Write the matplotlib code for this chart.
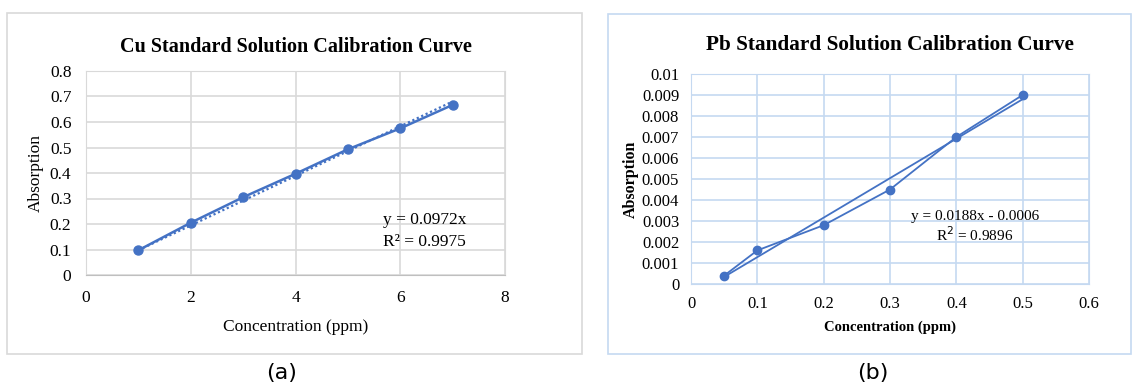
import numpy as np
import matplotlib.pyplot as plt
from matplotlib.patches import Rectangle

# Cu calibration data
cu_conc = [1, 2, 3, 4, 5, 6, 7]
cu_abs = [0.097, 0.205, 0.305, 0.397, 0.493, 0.575, 0.667]
cu_slope = 0.0972

# Pb calibration data
pb_conc = [0.05, 0.1, 0.2, 0.3, 0.4, 0.5]
pb_abs = [0.0004, 0.0016, 0.0028, 0.0045, 0.0070, 0.0090]
pb_slope = 0.0188
pb_icpt = -0.0006

BLUE = '#4472C4'
W, H = 1132, 388

plt.rcParams['font.family'] = 'Liberation Serif'

fig = plt.figure(figsize=(W / 100, H / 100), dpi=100)


def px_axes(x0, y0, x1, y1):
    # pixel box (top-left origin) -> figure axes
    return fig.add_axes([x0 / W, 1 - y1 / H, (x1 - x0) / W, (y1 - y0) / H])


def frame(x0, y0, x1, y1, color):
    fig.patches.append(Rectangle((x0 / W, 1 - y1 / H), (x1 - x0) / W, (y1 - y0) / H,
                                 transform=fig.transFigure, fill=False,
                                 edgecolor=color, lw=1.2))


# ---- (a) Cu ----
frame(7, 13, 582, 354, '#d9d9d9')
ax1 = px_axes(86, 71, 505, 275)
ax1.plot(cu_conc, cu_abs, color=BLUE, lw=1.8, marker='o', ms=6.5, zorder=3)
xx = np.array([cu_conc[0], cu_conc[-1]])
ax1.plot(xx, cu_slope * xx, color=BLUE, lw=1.6, ls=(0, (1, 1.2)), zorder=2)
ax1.set_xlim(0, 8)
ax1.set_ylim(0, 0.8)
ax1.set_xticks(np.arange(0, 9, 2))
ax1.set_yticks(np.arange(0, 0.81, 0.1))
ax1.set_yticklabels(['0'] + [f'{v:.1f}' for v in np.arange(0.1, 0.81, 0.1)])
ax1.grid(True, color='#d9d9d9', lw=1.2)
ax1.set_axisbelow(True)
for s in ax1.spines.values():
    s.set_color('#d9d9d9')
ax1.spines['bottom'].set_color('#bfbfbf')
ax1.tick_params(length=0, labelsize=12.5)
ax1.tick_params(axis='x', pad=11)
ax1.tick_params(axis='y', pad=10.5)
ax1.set_xlabel('Concentration (ppm)', fontsize=12.5, labelpad=9)
ax1.set_ylabel('Absorption', fontsize=12.5, labelpad=4)
ax1.set_title('Cu Standard Solution Calibration Curve', fontsize=14.5,
              fontweight='bold', pad=14)
ax1.text(7.26, 0.172, 'y = 0.0972x\nR² = 0.9975', ha='right', va='center',
         fontsize=12.5, linespacing=1.45)

# ---- (b) Pb ----
frame(608, 14, 1131, 354, '#c5d9f1')
ax2 = px_axes(691, 74, 1089, 284)
ax2.plot(pb_conc, pb_abs, color=BLUE, lw=1.3, marker='o', ms=6, zorder=3)
xx = np.array([pb_conc[0], pb_conc[-1]])
ax2.plot(xx, pb_slope * xx + pb_icpt, color=BLUE, lw=1.3, zorder=2)
ax2.set_xlim(0, 0.6)
ax2.set_ylim(0, 0.01)
ax2.set_xticks(np.arange(0, 0.61, 0.1))
ax2.set_xticklabels(['0'] + [f'{v:.1f}' for v in np.arange(0.1, 0.61, 0.1)])
ax2.set_yticks(np.arange(0, 0.0101, 0.001))
ax2.set_yticklabels(['0'] + [f'{v:.3f}' for v in np.arange(0.001, 0.0096, 0.001)] + ['0.01'])
ax2.grid(True, color='#c5d9f1', lw=1.2)
ax2.set_axisbelow(True)
for s in ax2.spines.values():
    s.set_color('#c5d9f1')
ax2.tick_params(length=0, labelsize=12)
ax2.tick_params(axis='x', pad=9)
ax2.tick_params(axis='y', pad=8.5)
ax2.set_xlabel('Concentration (ppm)', fontsize=10.5, fontweight='bold', labelpad=6)
ax2.set_ylabel('Absorption', fontsize=11.5, fontweight='bold', labelpad=2)
ax2.set_title('Pb Standard Solution Calibration Curve', fontsize=15.3,
              fontweight='bold', pad=17)
ax2.text(0.428, 0.0027, 'y = 0.0188x - 0.0006\nR$^2$ = 0.9896', ha='center',
         va='center', fontsize=11, linespacing=1.15)

fig.text(282 / W, 1 - 373 / H, '(a)', ha='center', va='center', fontsize=16,
         family='DejaVu Sans')
fig.text(873 / W, 1 - 373 / H, '(b)', ha='center', va='center', fontsize=16,
         family='DejaVu Sans')

fig.savefig('out.png', dpi=100, facecolor='white')
